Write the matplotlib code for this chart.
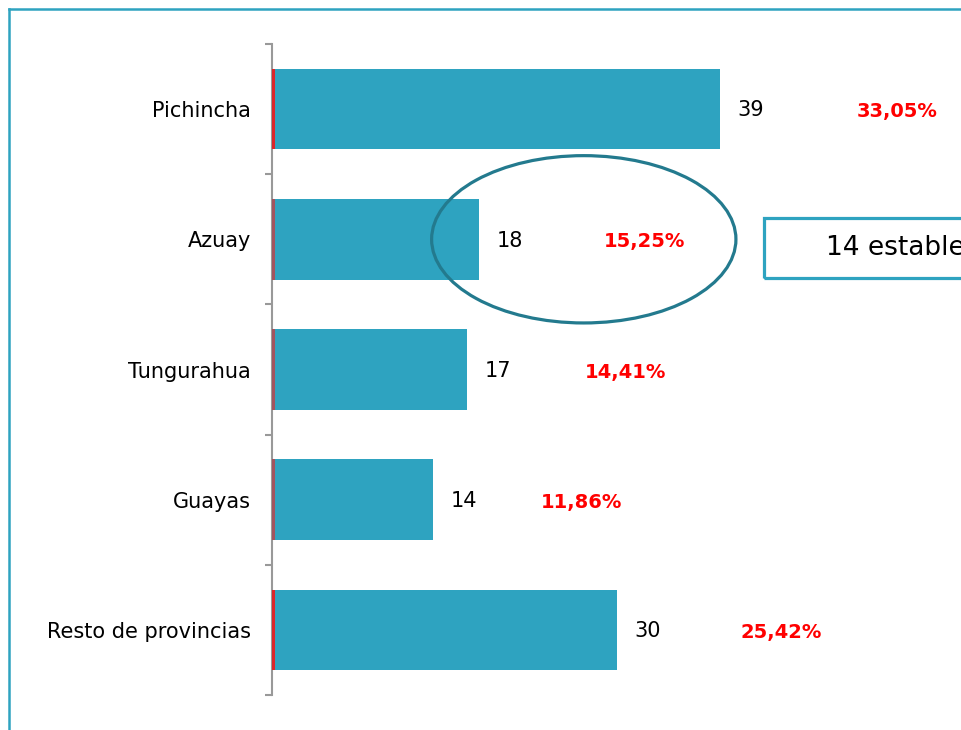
import matplotlib.pyplot as plt
from matplotlib.patches import Ellipse, Rectangle
from matplotlib.lines import Line2D
import numpy as np

provincias = ["Pichincha", "Azuay", "Tungurahua", "Guayas", "Resto de provincias"]
valores = [39, 18, 17, 14, 30]
porcentajes = ["33,05%", "15,25%", "14,41%", "11,86%", "25,42%"]
# thin second series visible at the base of the bars
serie_base = [0.25, 0.25, 0.25, 0.25, 0.25]
color_base = ["#d9262b", "#a0545f", "#a0545f", "#a0545f", "#d9262b"]
# left position offset of percentage labels (data units after bar end)
pct_offset = [11.9, 10.9, 10.2, 9.4, 10.8]

azul = "#2ea3c0"

fig = plt.figure(figsize=(9.61, 7.3), dpi=100)
ax = fig.add_axes([272 / 961, 35 / 730, (961 - 272) / 961, 651 / 730])

y = np.arange(len(provincias))
ax.barh(y, valores, height=0.62, color=azul, zorder=2)
ax.barh(y, serie_base, height=0.62, color=color_base, zorder=3)

for i, v in enumerate(valores):
    ax.text(v + 1.55, i + 0.01, str(v), va="center", ha="left", fontsize=15, color="black")
    ax.text(v + pct_offset[i], i + 0.02, porcentajes[i], va="center", ha="left",
            fontsize=14, fontweight="bold", color="#ff0000")

ax.set_xlim(0, 60)
ax.set_ylim(4.5, -0.5)
ax.set_yticks(y)
ax.set_yticklabels(provincias, fontsize=15)
ax.tick_params(axis="y", which="major", length=0, pad=15)
ax.set_yticks(np.arange(-0.5, 5, 1), minor=True)
ax.tick_params(axis="y", which="minor", length=5, width=1.5, color="#999999")
ax.set_xticks([])
for s in ["top", "right", "bottom"]:
    ax.spines[s].set_visible(False)
ax.spines["left"].set_color("#999999")
ax.spines["left"].set_linewidth(1.5)

# highlight ellipse around Azuay
ax.add_patch(Ellipse((27.15, 1.0), 26.5, 1.285, fill=False, edgecolor="#237a8e",
                     linewidth=2.3, zorder=4, clip_on=False))

# side box
fig.patches.append(Rectangle((764 / 961, (730 - 278) / 730), 0.3, 60 / 730,
                             transform=fig.transFigure, fill=False,
                             edgecolor=azul, linewidth=2.3, figure=fig))
fig.text(826 / 961, (730 - 248) / 730, "14 estable", fontsize=19, va="center",
         ha="left", color="black")

# slide frame
fig.add_artist(Line2D([9 / 961, 9 / 961], [0, (730 - 9) / 730],
                      color=azul, linewidth=1.8, transform=fig.transFigure))
fig.add_artist(Line2D([9 / 961, 1], [(730 - 9) / 730, (730 - 9) / 730],
                      color=azul, linewidth=1.8, transform=fig.transFigure))

fig.savefig("out.png", dpi=100)
